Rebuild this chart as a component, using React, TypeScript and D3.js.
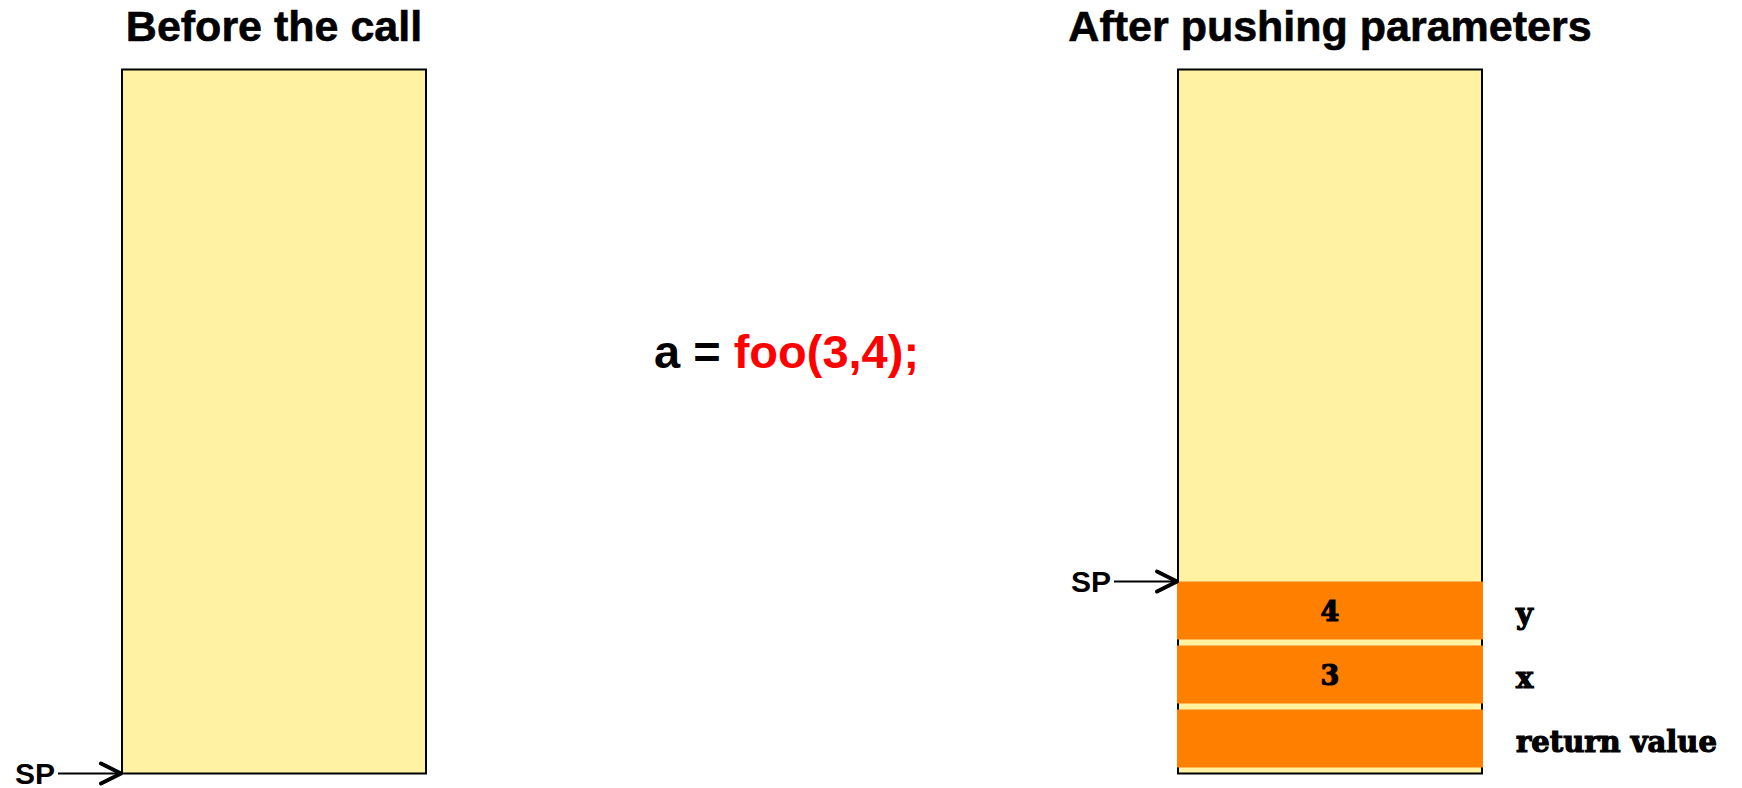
import React from "react";
import * as d3 from "d3";

// ---- data ----
const panelTitles = ["Before the call", "After pushing parameters"];
const callParts = ["a = ", "foo(3,4);"];
const slotValues = ["", "3", "4"]; // bottom -> top (pushed order)
const slotNames = ["return value", "x", "y"];
const stackCapacity = 11; // slots visible in each stack box
const spLabel = "SP";
const pushedPerPanel = [0, 3];

// ---- layout ----
const W = 1742;
const H = 788;
const boxLeft = [122, 1178];
const boxWidth = 304;
const boxBottom = 773.5;
const slotH = 64;
const gap = 6;

const COLORS = {
  yellow: "#FFF2A2",
  orange: "#FF7F00",
  red: "#FF0000",
  black: "#000000",
};

export default function App() {
  const y = d3
    .scaleLinear()
    .domain([0, stackCapacity])
    .range([boxBottom, boxBottom - stackCapacity * slotH]);

  const sans = "'Liberation Sans', Arial, Helvetica, sans-serif";
  const slab = "'DejaVu Serif', serif";

  return (
    <svg
      width={W}
      height={H}
      style={{ position: "absolute", left: 0, top: 0, background: "#fff" }}
    >
      {panelTitles.map((t, p) => {
        const x0 = boxLeft[p];
        const cx = x0 + boxWidth / 2;
        const pushed = pushedPerPanel[p];
        const spY = y(pushed);
        const arrowEnd = x0 - 1;
        const arrowStart = x0 - 64;
        return (
          <g key={p}>
            <text
              x={cx}
              y={41}
              textAnchor="middle"
              fontFamily={sans}
              fontWeight="bold"
              fontSize={43}
              fill={COLORS.black}
              stroke={COLORS.black}
              strokeWidth={0.6}
            >
              {t}
            </text>
            <rect
              x={x0}
              y={y(stackCapacity)}
              width={boxWidth}
              height={y(0) - y(stackCapacity)}
              fill={COLORS.yellow}
              stroke={COLORS.black}
              strokeWidth={2}
            />
            {d3.range(pushed).map((i) => (
              <g key={i}>
                <rect
                  x={x0 - 1}
                  y={y(i + 1)}
                  width={boxWidth + 2}
                  height={y(i) - y(i + 1) - gap}
                  fill={COLORS.orange}
                />
                <text
                  x={cx}
                  y={(y(i + 1) + y(i) - gap) / 2 + 10}
                  textAnchor="middle"
                  fontFamily={slab}
                  fontWeight="bold"
                  fontSize={27}
                  fill={COLORS.black}
                  stroke={COLORS.black}
                  strokeWidth={1.2}
                >
                  {slotValues[i]}
                </text>
                <text
                  x={x0 + boxWidth + 34}
                  y={(y(i + 1) + y(i) - gap) / 2 + 13}
                  fontFamily={slab}
                  fontWeight="bold"
                  fontSize={29}
                  fill={COLORS.black}
                  stroke={COLORS.black}
                  strokeWidth={1.2}
                >
                  {slotNames[i]}
                </text>
              </g>
            ))}
            {/* SP pointer */}
            <line
              x1={arrowStart}
              y1={spY}
              x2={arrowEnd}
              y2={spY}
              stroke={COLORS.black}
              strokeWidth={2}
            />
            <path
              d={`M${arrowEnd - 20},${spY - 10} L${arrowEnd},${spY} L${arrowEnd - 20},${spY + 10}`}
              fill="none"
              stroke={COLORS.black}
              strokeWidth={4}
              strokeLinecap="round"
              strokeLinejoin="round"
            />
            <text
              x={arrowStart - 3}
              y={spY + 10}
              textAnchor="end"
              fontFamily={sans}
              fontWeight="bold"
              fontSize={30}
              fill={COLORS.black}
            >
              {spLabel}
            </text>
          </g>
        );
      })}
      <text
        x={654}
        y={368}
        fontFamily={sans}
        fontWeight="bold"
        fontSize={47}
      >
        <tspan fill={COLORS.black}>{callParts[0]}</tspan>
        <tspan fill={COLORS.red}>{callParts[1]}</tspan>
      </text>
    </svg>
  );
}
